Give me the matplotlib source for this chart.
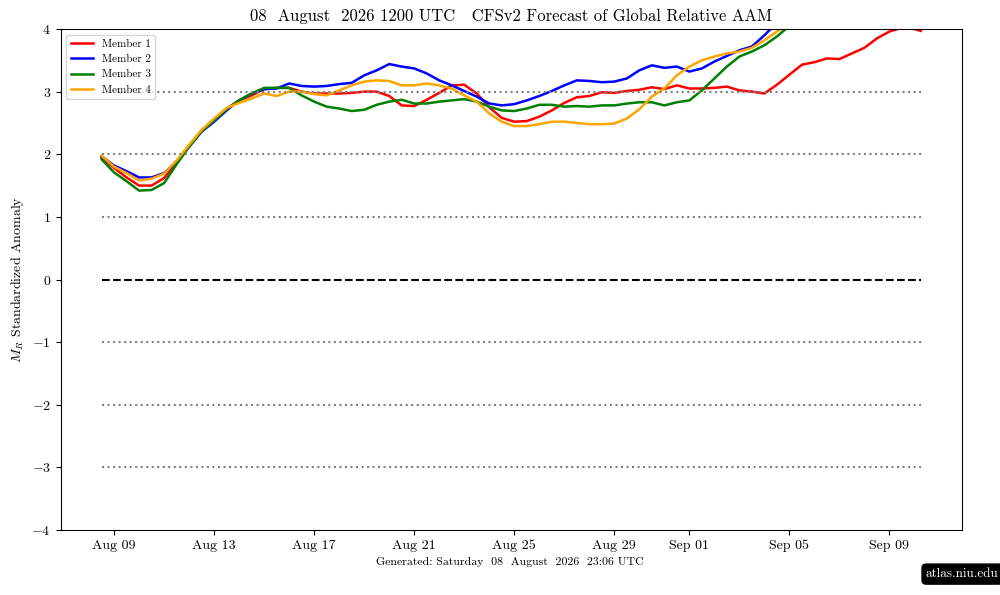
import numpy as np
import pandas as pd
import matplotlib
matplotlib.use('Agg')
import matplotlib.pyplot as plt
import matplotlib.dates as mdates

plt.rcParams['font.family'] = 'serif'
plt.rcParams['font.serif'] = ['cmr10', 'DejaVu Serif']
plt.rcParams['mathtext.fontset'] = 'cm'
plt.rcParams['axes.formatter.use_mathtext'] = True

nan = np.nan

# 12-hourly from 08 Aug 12Z, plus the last step at 10 Sep 06Z
times = list(pd.date_range('2026-08-08 12:00', periods=66, freq='12h')) + [pd.Timestamp('2026-09-10 06:00')]

member1 = [1.95, 1.78, 1.63, 1.50, 1.50, 1.62, 1.86, 2.13, 2.38, 2.55,
           2.73, 2.86, 2.94, 3.04, 3.06, 3.06, 3.00, 2.97, 2.97, 2.97,
           2.98, 3.00, 3.00, 2.93, 2.78, 2.77, 2.87, 2.98, 3.10, 3.11,
           2.97, 2.75, 2.58, 2.52, 2.53, 2.60, 2.70, 2.82, 2.91, 2.93,
           2.99, 2.98, 3.01, 3.03, 3.07, 3.04, 3.10, 3.05, 3.05, 3.06,
           3.08, 3.02, 3.00, 2.97, 3.11, 3.27, 3.43, 3.47, 3.53, 3.52,
           3.61, 3.70, 3.85, 3.96, 4.02, 4.00, 3.97]
member2 = [1.97, 1.82, 1.73, 1.63, 1.63, 1.70, 1.88, 2.12, 2.36, 2.52,
           2.70, 2.86, 2.97, 3.04, 3.05, 3.13, 3.09, 3.08, 3.09, 3.12,
           3.14, 3.26, 3.34, 3.44, 3.40, 3.37, 3.29, 3.18, 3.10, 3.01,
           2.92, 2.81, 2.78, 2.80, 2.86, 2.93, 3.01, 3.10, 3.18, 3.17,
           3.15, 3.16, 3.21, 3.34, 3.42, 3.38, 3.40, 3.32, 3.37, 3.48,
           3.57, 3.66, 3.72, 3.90, 4.10, 4.30, nan, nan, nan, nan,
           nan, nan, nan, nan, nan, nan, nan]
member3 = [1.92, 1.71, 1.57, 1.42, 1.43, 1.54, 1.84, 2.12, 2.37, 2.54,
           2.72, 2.86, 2.97, 3.06, 3.06, 3.06, 2.94, 2.84, 2.76, 2.73,
           2.69, 2.71, 2.79, 2.84, 2.87, 2.81, 2.81, 2.84, 2.86, 2.88,
           2.84, 2.76, 2.70, 2.69, 2.73, 2.79, 2.79, 2.76, 2.77, 2.76,
           2.78, 2.78, 2.81, 2.83, 2.83, 2.78, 2.83, 2.86, 3.02, 3.21,
           3.40, 3.56, 3.64, 3.74, 3.88, 4.05, 4.25, nan, nan, nan,
           nan, nan, nan, nan, nan, nan, nan]
member4 = [1.98, 1.80, 1.70, 1.58, 1.61, 1.69, 1.90, 2.15, 2.39, 2.57,
           2.74, 2.82, 2.89, 2.97, 2.93, 3.00, 3.00, 2.96, 2.94, 3.02,
           3.10, 3.16, 3.18, 3.17, 3.10, 3.10, 3.13, 3.10, 3.05, 2.94,
           2.84, 2.65, 2.52, 2.45, 2.45, 2.48, 2.52, 2.52, 2.50, 2.48,
           2.48, 2.49, 2.57, 2.72, 2.92, 3.05, 3.26, 3.40, 3.50, 3.56,
           3.61, 3.64, 3.70, 3.82, 3.96, 4.08, 4.30, nan, nan, nan,
           nan, nan, nan, nan, nan, nan, nan]

members = [member1, member2, member3, member4]
labels = ['Member 1', 'Member 2', 'Member 3', 'Member 4']
colors = ['red', 'blue', 'green', 'orange']
ref_levels = [-3, -2, -1, 1, 2, 3]

fig = plt.figure(figsize=(10, 5.95), dpi=100)
ax = fig.add_axes([0.0606, 0.109, 0.9011, 0.8423])

for vals, lab, col in zip(members, labels, colors):
    ax.plot(times, vals, color=col, lw=1.8, label=lab)

for lev in ref_levels:
    ax.plot(times, [lev] * len(times), color='gray', ls=':', lw=1.5)
ax.plot(times, [0] * len(times), color='black', ls='--', lw=1.5)

ax.set_ylim(-4, 4)
ax.set_yticks(range(-4, 5))
ax.xaxis.set_major_locator(mdates.DayLocator(bymonthday=[1, 5, 9, 13, 17, 21, 25, 29]))
ax.xaxis.set_major_formatter(mdates.DateFormatter('%b %d'))
ax.tick_params(labelsize=10)

ax.set_title('08  August  2026 1200 UTC   CFSv2 Forecast of Global Relative AAM', fontsize=12)
ax.set_ylabel(r'$M_R$ Standardized Anomaly', fontsize=10)
ax.legend(loc='upper left', fontsize=8)

fig.text(0.51, 0.05, 'Generated: Saturday  08  August  2026  23:06 UTC', ha='center', fontsize=8.5)
fig.text(0.926, 0.03, 'atlas.niu.edu', color='white', fontsize=9.5,
         bbox=dict(boxstyle='round,pad=0.3', fc='black', ec='black'))

fig.savefig('out.png', dpi=100)
